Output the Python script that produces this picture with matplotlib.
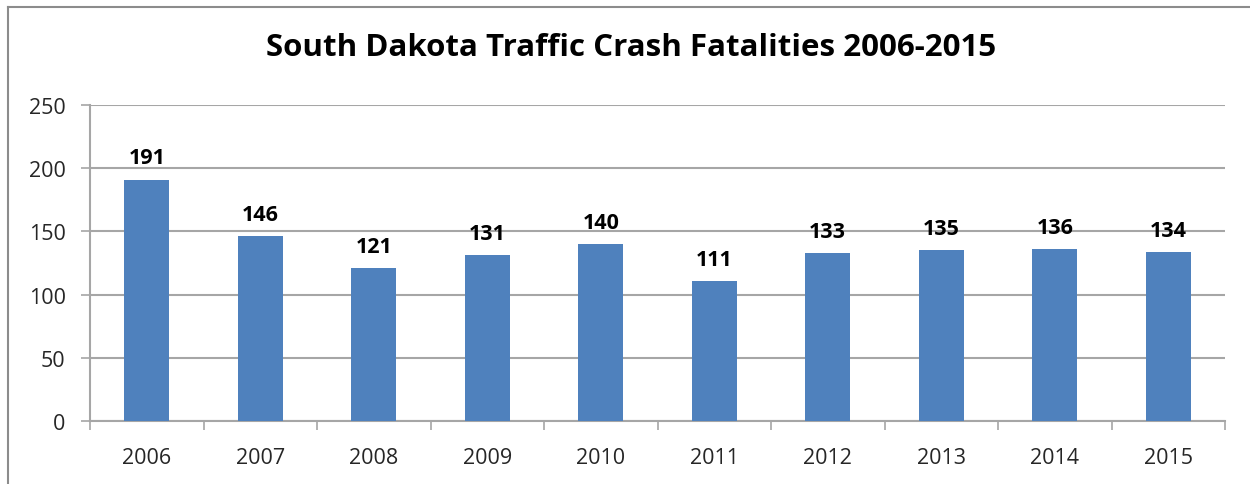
#!/usr/bin/env python3
"""
South Dakota traffic crash fatalities 2006-2015, column chart.
Saves out.png
"""

import matplotlib.pyplot as plt
from matplotlib.lines import Line2D

years = ["2006", "2007", "2008", "2009", "2010", "2011", "2012", "2013", "2014", "2015"]
fatalities = [191, 146, 121, 131, 140, 111, 133, 135, 136, 134]
y_ticks = [0, 50, 100, 150, 200, 250]

BAR_COLOR = "#4F81BD"
GRID_COLOR = "#A6A6A6"
TEXT_COLOR = "#262626"
FONT = ["Open Sans", "DejaVu Sans"]


def main():
    fig = plt.figure(figsize=(12.5, 4.85), dpi=100)
    ax = fig.add_axes([0.072, 0.1299, 0.908, 0.6515])

    x = list(range(len(years)))
    bars = ax.bar(x, fatalities, width=0.4, color=BAR_COLOR, zorder=3)

    # подписи над столбцами
    for rect, val in zip(bars, fatalities):
        ax.annotate(str(val), (rect.get_x() + rect.get_width() / 2, val),
                    xytext=(0, 8), textcoords="offset points",
                    ha="center", va="bottom", fontsize=15.5, fontweight="bold",
                    color="black", family=FONT)

    ax.set_xlim(-0.5, len(years) - 0.5)
    ax.set_ylim(0, 250)
    ax.set_yticks(y_ticks)
    ax.set_yticklabels([str(t) for t in y_ticks], family=FONT, fontsize=15.5, color=TEXT_COLOR)
    ax.yaxis.grid(True, color=GRID_COLOR, linewidth=1.5, zorder=0)
    ax.tick_params(axis="y", length=6.5, width=1.2, color=GRID_COLOR, pad=11)

    # x: подписи по центру, засечки на границах категорий
    ax.set_xticks(x)
    ax.set_xticklabels(years, family=FONT, fontsize=15.5, color=TEXT_COLOR)
    ax.tick_params(axis="x", which="major", length=0, pad=19)
    ax.set_xticks([i - 0.5 for i in range(len(years) + 1)], minor=True)
    ax.tick_params(axis="x", which="minor", length=6.5, width=1.2, color=GRID_COLOR, direction="out")

    for side in ["top", "right"]:
        ax.spines[side].set_visible(False)
    for side in ["left", "bottom"]:
        ax.spines[side].set_color(GRID_COLOR)
        ax.spines[side].set_linewidth(1.5)

    fig.text(0.505, 0.9, "South Dakota Traffic Crash Fatalities 2006-2015",
             ha="center", va="center", fontsize=22.5, fontweight="bold",
             color="black", family=FONT)

    # рамка диаграммы (видны только верх и левый край)
    fig.add_artist(Line2D([8 / 1250, 1.0], [1 - 8 / 485] * 2, transform=fig.transFigure,
                          color="#8C8C8C", linewidth=1.5))
    fig.add_artist(Line2D([8 / 1250] * 2, [0.0, 1 - 8 / 485], transform=fig.transFigure,
                          color="#8C8C8C", linewidth=1.5))

    fig.savefig("out.png", dpi=100, facecolor="white")
    plt.close(fig)


if __name__ == "__main__":
    main()
